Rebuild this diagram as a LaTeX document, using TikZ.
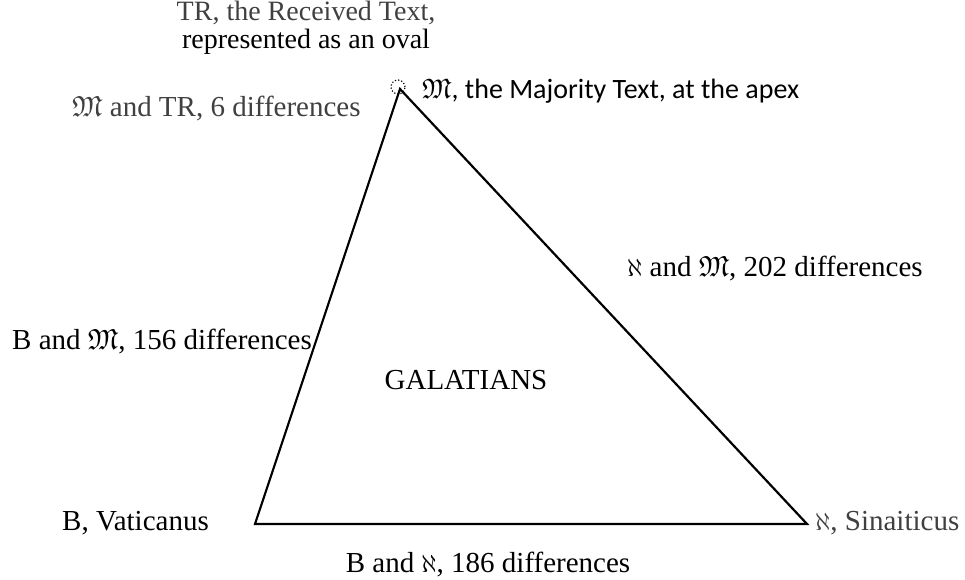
\documentclass[tikz,border=0pt]{standalone}
\usepackage{amssymb}
\usepackage{fontspec}
\setmainfont{Liberation Serif}
\newfontfamily\calfont{Carlito}
\usepackage{xcolor}
\usepackage{tikz}
\usetikzlibrary{positioning,calc}
\definecolor{mInk}{RGB}{0,0,0}
\definecolor{mGrey}{RGB}{64,64,64}
\tikzset{
txt/.style={inner sep=0pt,font=\fontsize{29}{25}\selectfont,text=mInk,anchor=base},
greytxt/.style={txt,text=mGrey},
toptxt/.style={txt,font=\fontsize{28}{25}\selectfont},
sanstxt/.style={txt,font=\fontsize{28}{25}\selectfont\calfont},
side/.style={draw=mInk,line width=2.2pt,line join=miter},
oval/.style={circle,draw=mInk,dotted,line width=1.2pt,minimum size=14pt,inner sep=0pt}
}
\begin{document}
\begin{tikzpicture}[x=1pt,y=-1pt]
\useasboundingbox (0,0) rectangle (965,580);
% corners of the triangle
\coordinate (apex) at (400,89);
\coordinate (vat) at (255,524);
\coordinate (sin) at (807,524);
\draw[side] (apex)--(vat)--(sin)--cycle;
\node[oval] (tr) at (398,87) {};
% labels
\node[toptxt,text=mGrey] (trtop) at (306,21) {TR, the Received Text,};
\node[toptxt] (trbot) at (306,49) {represented as an oval};
\node[greytxt,anchor=base west] (mtr) at (72,117) {$\mathfrak{M}$ and TR, 6 differences};
\node[sanstxt,anchor=base west] (maj) at (422,99) {$\mathfrak{M}$, the Majority Text, at the apex};
\node[txt,anchor=base west] (sm) at (627,276) {$\aleph$ and $\mathfrak{M}$, 202 differences};
\node[txt,anchor=base west] (bm) at (12,349) {B and $\mathfrak{M}$, 156 differences};
\node[txt] (gal) at (466,389) {GALATIANS};
\node[txt,anchor=base west] (vatl) at (62,530) {B, Vaticanus};
\node[greytxt,anchor=base west] (sinl) at (815,530) {$\aleph$, Sinaiticus};
\node[txt] (bs) at (488,572) {B and $\aleph$, 186 differences};
\end{tikzpicture}
\end{document}
